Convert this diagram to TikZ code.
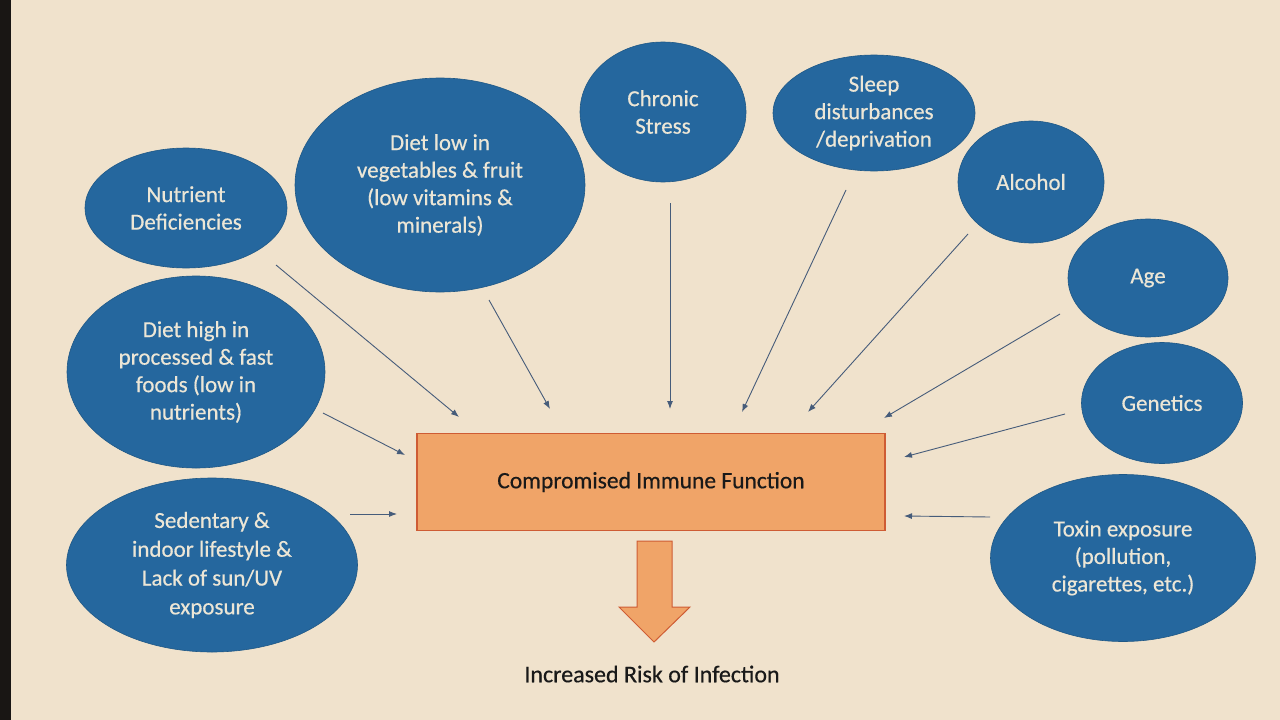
\documentclass[tikz,border=0pt]{standalone}
\usepackage{fontspec}
\setmainfont{Carlito}
\newfontfamily\medfont{Carlito}[FakeBold=0.5]
\usetikzlibrary{arrows.meta,shapes.geometric}
\definecolor{paper}{RGB}{240,226,204}
\definecolor{edge}{RGB}{25,22,20}
\definecolor{blob}{RGB}{37,103,158}
\definecolor{blobtext}{RGB}{236,230,214}
\definecolor{boxfill}{RGB}{240,164,104}
\definecolor{boxline}{RGB}{206,92,52}
\definecolor{conncol}{RGB}{70,92,122}
\tikzset{
  blobnode/.style={ellipse, fill=blob, draw=blob!85!black, line width=0.6pt, inner sep=0pt,
    text=blobtext, align=center, font=\medfont\fontsize{23}{27.5}\selectfont},
  conn/.style={draw=conncol, line width=0.9pt, -{Latex[length=8pt,width=6pt]}},
  mainbox/.style={rectangle, fill=boxfill, draw=boxline, line width=1.2pt,
    minimum width=468pt, minimum height=97pt, font=\medfont\fontsize{23.5}{27}\selectfont, text=black!90}
}
\begin{document}
\begin{tikzpicture}[x=1pt,y=-1pt]
\fill[paper] (0,0) rectangle (1280,720);
\fill[edge] (0,0) rectangle (11,720);
\useasboundingbox (0,0) rectangle (1280,720);

% ellipses
\node[blobnode, minimum width=202pt, minimum height=120pt] (nut) at (186,208) {Nutrient\\Deficiencies};
\node[blobnode, minimum width=290pt, minimum height=214pt] (veg) at (440,185) {Diet low in\\vegetables \& fruit\\(low vitamins \&\\minerals)};
\node[blobnode, minimum width=166pt, minimum height=140pt] (stress) at (663,112) {Chronic\\Stress};
\node[blobnode, minimum width=202pt, minimum height=116pt] (sleep) at (874,113) {Sleep\\disturbances\\/deprivation};
\node[blobnode, minimum width=146pt, minimum height=122pt] (alc) at (1031,182) {Alcohol};
\node[blobnode, minimum width=160pt, minimum height=118pt] (age) at (1148,278) {Age};
\node[blobnode, minimum width=161pt, minimum height=121pt] (gen) at (1162,403) {Genetics};
\node[blobnode, minimum width=265pt, minimum height=167pt] (tox) at (1123,558) {Toxin exposure\\(pollution,\\cigarettes, etc.)};
\node[blobnode, minimum width=258pt, minimum height=192pt] (proc) at (196,372) {Diet high in\\processed \& fast\\foods (low in\\nutrients)};
\node[blobnode, minimum width=291pt, minimum height=174pt, font=\medfont\fontsize{23}{28.8}\selectfont] (sed) at (212,565) {Sedentary \&\\indoor lifestyle \&\\Lack of sun/UV\\exposure};

% central box
\node[mainbox] (cif) at (651,482) {Compromised Immune Function};

% big arrow
\path[fill=boxfill, draw=boxline, line width=1pt, line join=miter]
  (637,541) -- (672,541) -- (672,607) -- (690,607) -- (654,642) -- (619,607) -- (637,607) -- cycle;
\node[font=\medfont\fontsize{24}{28}\selectfont, text=black!90] (risk) at (652,674) {Increased Risk of Infection};

% connector end points
\coordinate (s1) at (276,265); \coordinate (e1) at (459,417);
\coordinate (s2) at (489,300); \coordinate (e2) at (550,409);
\coordinate (s3) at (670,203); \coordinate (e3) at (670,409);
\coordinate (s4) at (846,190); \coordinate (e4) at (742,412);
\coordinate (s5) at (968,234); \coordinate (e5) at (808,412);
\coordinate (s6) at (1060,314); \coordinate (e6) at (884,418);
\coordinate (s7) at (1065,414); \coordinate (e7) at (904,457);
\coordinate (s8) at (990,517); \coordinate (e8) at (904,516);
\coordinate (s9) at (323,413); \coordinate (e9) at (405,455);
\coordinate (s10) at (350,514); \coordinate (e10) at (397,514);

\foreach \i in {1,...,10} { \draw[conn] (s\i) -- (e\i); }
\end{tikzpicture}
\end{document}
